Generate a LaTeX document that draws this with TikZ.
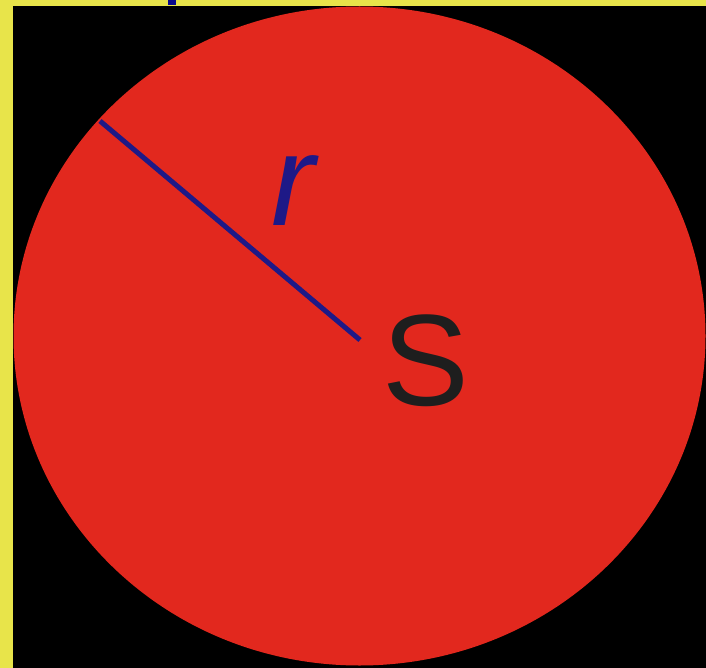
\documentclass[tikz,border=0pt]{standalone}
\usepackage{fontspec}
\setmainfont{Liberation Sans}
\definecolor{bgyellow}{RGB}{232,228,74}
\definecolor{discred}{RGB}{226,40,30}
\definecolor{radblue}{RGB}{30,25,135}
\definecolor{labblack}{RGB}{30,30,30}
\definecolor{markblue}{RGB}{10,10,140}
\begin{document}
\begin{tikzpicture}[x=1pt,y=-1pt,
  lab/.style={inner sep=0pt,outer sep=0pt,font=\fontsize{130}{130}\selectfont}]
\useasboundingbox (0,0) rectangle (706,668);
\fill[bgyellow] (0,0) rectangle (706,668);
\fill[black] (13,6) rectangle (706,668);
\fill[markblue] (168,0) rectangle (176,5);
\fill[discred] (359.5,336) ellipse [x radius=346, y radius=329.5];
\coordinate (rim) at (100,121);
\coordinate (centre) at (360,340);
\draw[radblue, line width=5pt] (rim) -- (centre);
\node[lab, text=radblue, font=\fontsize{130}{130}\selectfont\itshape] (r) at (293,191) {r};
\node[lab, text=labblack] (S) at (426,361) {S};
\end{tikzpicture}
\end{document}
